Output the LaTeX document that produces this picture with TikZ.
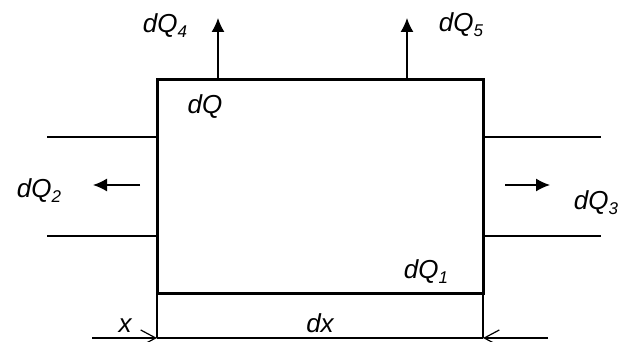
\documentclass[tikz,border=0pt]{standalone}
\usepackage{fontspec}
\setmainfont{Liberation Sans}
\usetikzlibrary{arrows.meta}
\newcommand{\qsub}[1]{\raisebox{-.35ex}{\fontsize{17}{17}\selectfont #1}}
\tikzset{
  lbl/.style={font=\fontsize{26}{29}\selectfont\itshape, inner sep=0pt},
  flow/.style={-{Latex[length=14pt,width=13pt]}, line width=1.4pt},
  dim/.style={-{Straight Barb[length=15pt,width=16pt]}, line width=1.2pt},
}
\begin{document}
\begin{tikzpicture}[x=1pt, y=1pt]
\useasboundingbox (0,0) rectangle (627,342);
% element
\coordinate (sw) at (157,48);
\coordinate (ne) at (483,262);
\draw[line width=3pt] (sw) rectangle (ne);
% walls
\draw[line width=1.3pt] (47,205)--(157,205) (47,106)--(157,106);
\draw[line width=1.3pt] (483,205)--(601,205) (483,106)--(601,106);
% flows
\coordinate (t4) at (218,262); \coordinate (h4) at (218,324);
\coordinate (t5) at (407,262); \coordinate (h5) at (407,324);
\draw[flow] (t4)--(h4);
\draw[flow] (t5)--(h5);
\coordinate (t2) at (140,157); \coordinate (h2) at (93,157);
\coordinate (t3) at (505,157); \coordinate (h3) at (550,157);
\draw[flow] (t2)--(h2);
\draw[flow] (t3)--(h3);
% dimension
\coordinate (dl) at (157,4); \coordinate (dr) at (483,4);
\draw[line width=1.2pt] (sw)--(dl) (483,48)--(dr);
\draw[line width=1.2pt] (dl)--(dr);
\draw[dim] (92,4)--(dl);
\draw[dim] (548,4)--(dr);
% labels
\node[lbl] (q)  at (205,235) {dQ};
\node[lbl] (q1) at (426,70)  {dQ\qsub{1}};
\node[lbl] (q2) at (39,151)  {dQ\qsub{2}};
\node[lbl] (q3) at (596,139) {dQ\qsub{3}};
\node[lbl] (q4) at (165,316) {dQ\qsub{4}};
\node[lbl] (q5) at (461,317) {dQ\qsub{5}};
\node[lbl] (xl) at (125,16)  {x};
\node[lbl] (dx) at (320,19)  {dx};
\end{tikzpicture}
\end{document}
